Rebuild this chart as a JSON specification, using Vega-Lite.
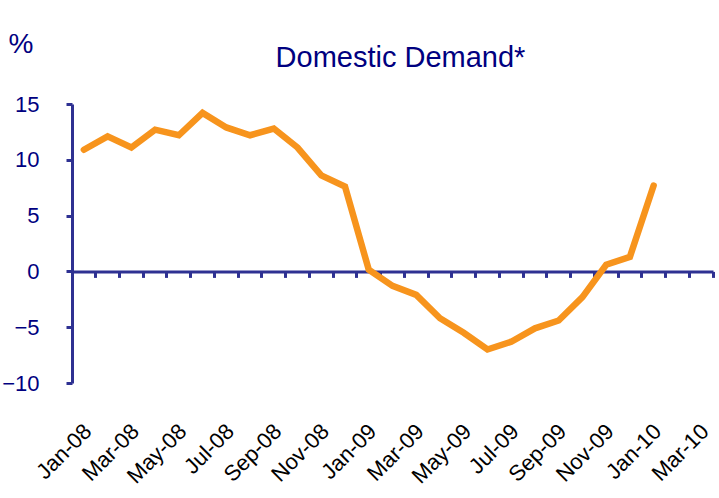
{
  "$schema": "https://vega.github.io/schema/vega-lite/v6.json",
  "width": 641,
  "height": 279,
  "autosize": {"type": "none"},
  "padding": {"left": 72, "top": 104, "right": 6, "bottom": 115},
  "background": "white",
  "config": {"view": {"stroke": null}, "font": "Liberation Sans"},
  "title": {
    "text": "Domestic Demand*",
    "fontSize": 29,
    "fontWeight": "normal",
    "font": "Liberation Sans",
    "color": "#000080",
    "anchor": "middle",
    "baseline": "alphabetic",
    "offset": -66,
    "dx": 8
  },
  "data": {
    "values": [
      {"month": "Jan-08", "value": 10.9},
      {"month": "Feb-08", "value": 12.1},
      {"month": "Mar-08", "value": 11.1},
      {"month": "Apr-08", "value": 12.7},
      {"month": "May-08", "value": 12.2},
      {"month": "Jun-08", "value": 14.2},
      {"month": "Jul-08", "value": 12.9},
      {"month": "Aug-08", "value": 12.2},
      {"month": "Sep-08", "value": 12.8},
      {"month": "Oct-08", "value": 11.1},
      {"month": "Nov-08", "value": 8.6},
      {"month": "Dec-08", "value": 7.6},
      {"month": "Jan-09", "value": 0.15},
      {"month": "Feb-09", "value": -1.3},
      {"month": "Mar-09", "value": -2.1},
      {"month": "Apr-09", "value": -4.2},
      {"month": "May-09", "value": -5.5},
      {"month": "Jun-09", "value": -7.0},
      {"month": "Jul-09", "value": -6.3},
      {"month": "Aug-09", "value": -5.1},
      {"month": "Sep-09", "value": -4.4},
      {"month": "Oct-09", "value": -2.3},
      {"month": "Nov-09", "value": 0.6},
      {"month": "Dec-09", "value": 1.3},
      {"month": "Jan-10", "value": 7.7}
    ]
  },
  "mark": {"type": "line", "color": "#F7941D", "strokeWidth": 6.5, "strokeCap": "round", "strokeJoin": "miter"},
  "encoding": {
    "x": {
      "field": "month",
      "type": "ordinal",
      "sort": null,
      "scale": {
        "type": "band",
        "domain": ["Jan-08","Feb-08","Mar-08","Apr-08","May-08","Jun-08","Jul-08","Aug-08","Sep-08","Oct-08","Nov-08","Dec-08","Jan-09","Feb-09","Mar-09","Apr-09","May-09","Jun-09","Jul-09","Aug-09","Sep-09","Oct-09","Nov-09","Dec-09","Jan-10","Feb-10","Mar-10"],
        "paddingInner": 0,
        "paddingOuter": 0
      },
      "axis": {
        "title": null,
        "offset": -111.6,
        "bandPosition": 1,
        "domainColor": "#2E3192",
        "domainWidth": 3,
        "tickColor": "#2E3192",
        "tickWidth": 3,
        "tickSize": 6,
        "labelAngle": -45,
        "labelAlign": "right",
        "labelBaseline": "top",
        "labelPadding": 143,
        "labelOffset": -3,
        "labelFontSize": 22,
        "labelColor": "black",
        "labelOverlap": false,
        "labelExpr": "test(/^(Jan|Mar|May|Jul|Sep|Nov)/, datum.label) ? datum.label : ''",
        "grid": false
      }
    },
    "y": {
      "field": "value",
      "type": "quantitative",
      "scale": {"domain": [-10, 15], "nice": false, "zero": false},
      "axis": {
        "values": [-10, -5, 0, 5, 10, 15],
        "title": "%",
        "titleAngle": 0,
        "titleX": -64,
        "titleY": -52,
        "titleAlign": "left",
        "titleBaseline": "alphabetic",
        "titleFontSize": 28,
        "titleFontWeight": "normal",
        "titleColor": "#000080",
        "domainColor": "#2E3192",
        "domainWidth": 3,
        "tickColor": "#2E3192",
        "tickWidth": 3,
        "tickSize": 6,
        "labelFontSize": 22,
        "labelColor": "#000080",
        "labelPadding": 27,
        "grid": false
      }
    }
  }
}
